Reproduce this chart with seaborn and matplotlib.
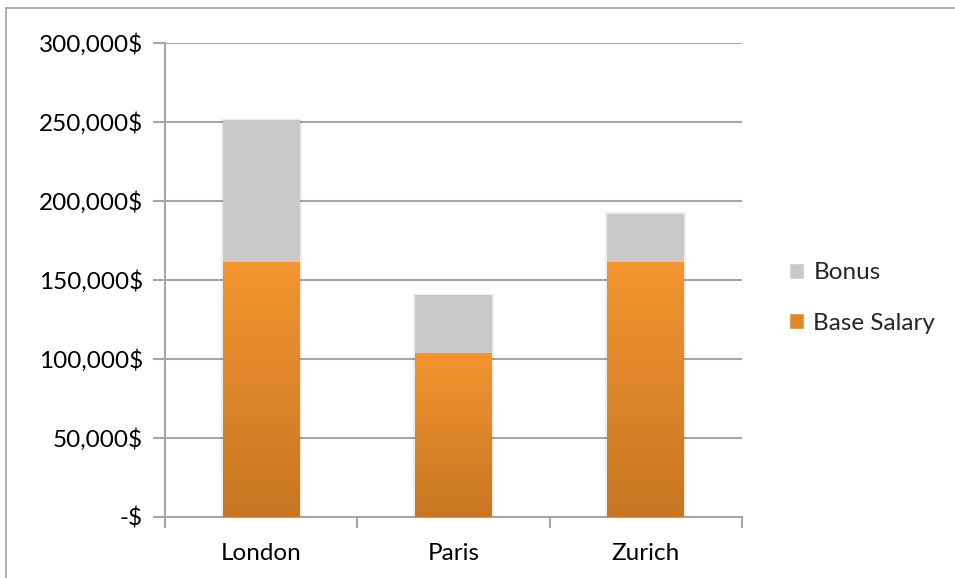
import numpy as np
import pandas as pd
import matplotlib
matplotlib.use("Agg")
import matplotlib.pyplot as plt
import seaborn as sns
from matplotlib.patches import Patch, Rectangle
from matplotlib.ticker import FuncFormatter, FixedLocator

# Data
cities = ["London", "Paris", "Zurich"]
base_salary = [161000, 103500, 161000]
bonus = [90000, 37000, 31000]

df = pd.DataFrame({"City": cities, "Base Salary": base_salary, "Bonus": bonus})
df["Total"] = df["Base Salary"] + df["Bonus"]

sns.set_style("white")
plt.rcParams["font.family"] = ["Lato", "DejaVu Sans"]

fig = plt.figure(figsize=(9.55, 5.78), dpi=100)
ax = fig.add_axes([165 / 955, 1 - 517 / 578, (742 - 165) / 955, (517 - 43) / 578])

grid_col = "#A6A6A6"
for v in range(50000, 300001, 50000):
    ax.axhline(v, color=grid_col, lw=1.5, zorder=0)

# bonus stacked on top of base: draw total in grey, then base over it
sns.barplot(data=df, x="City", y="Total", color="#C9C9C9", width=0.4,
            saturation=1, linewidth=0, ax=ax, zorder=2)
n_total = len(ax.patches)
sns.barplot(data=df, x="City", y="Base Salary", color="#F39530", width=0.4,
            saturation=1, linewidth=0, ax=ax, zorder=3)

# vertical gradient on the base salary bars
grad = np.linspace(0, 1, 256).reshape(-1, 1)
top = np.array([0xF3, 0x95, 0x30]) / 255
bot = np.array([0xC7, 0x76, 0x22]) / 255
img = top * (1 - grad[..., None]) + bot * grad[..., None]
img = img.reshape(256, 1, 3)
for p in ax.patches[n_total:]:
    x0, w, h = p.get_x(), p.get_width(), p.get_height()
    p.set_facecolor("none")
    p.set_edgecolor("none")
    ax.imshow(img, extent=(x0, x0 + w, 0, h), aspect="auto",
              origin="upper", zorder=3)
for p in ax.patches[:n_total]:
    x0, w, h = p.get_x(), p.get_width(), p.get_height()
    # faint shadow
    ax.add_patch(Rectangle((x0 - 0.01, 0), w + 0.02, h + 800,
                           facecolor="#000000", alpha=0.07, lw=0, zorder=1))

ax.set_xlim(-0.5, 2.5)
ax.set_ylim(0, 300000)
ax.set_xlabel("")
ax.set_ylabel("")

ax.yaxis.set_major_locator(FixedLocator(range(0, 300001, 50000)))
ax.yaxis.set_major_formatter(FuncFormatter(lambda v, _: "-$" if v == 0 else f"{int(v):,}$"))

ax.tick_params(axis="y", which="major", left=True, length=9, width=1.5,
               color=grid_col, labelsize=17.5, pad=7, labelcolor="#000000")
ax.tick_params(axis="x", which="major", bottom=False, labelsize=17.5, pad=15,
               labelcolor="#000000")
ax.set_xticks([-0.5, 0.5, 1.5, 2.5], minor=True)
ax.tick_params(axis="x", which="minor", bottom=True, length=8, width=1.5,
               color=grid_col)

for side in ["top", "right"]:
    ax.spines[side].set_visible(False)
for side in ["left", "bottom"]:
    ax.spines[side].set_visible(True)
    ax.spines[side].set_color(grid_col)
    ax.spines[side].set_linewidth(1.5)

# legend
handles = [Patch(facecolor="#C9C9C9", label="Bonus"),
           Patch(facecolor="#E08828", label="Base Salary")]
fig.legend(handles=handles, loc="center left", bbox_to_anchor=(777 / 955, 1 - 298 / 578),
           frameon=False, fontsize=17.5, handlelength=0.6, handleheight=0.6,
           handletextpad=0.4, labelspacing=1.2, borderpad=0)

# outer chart border
fig.patches.append(Rectangle((6 / 955, -0.01), 1.1, 1 - 8 / 578 + 0.01,
                             transform=fig.transFigure, fill=False,
                             edgecolor="#A0A0A0", lw=1.2))

fig.savefig("out.png", dpi=100)
